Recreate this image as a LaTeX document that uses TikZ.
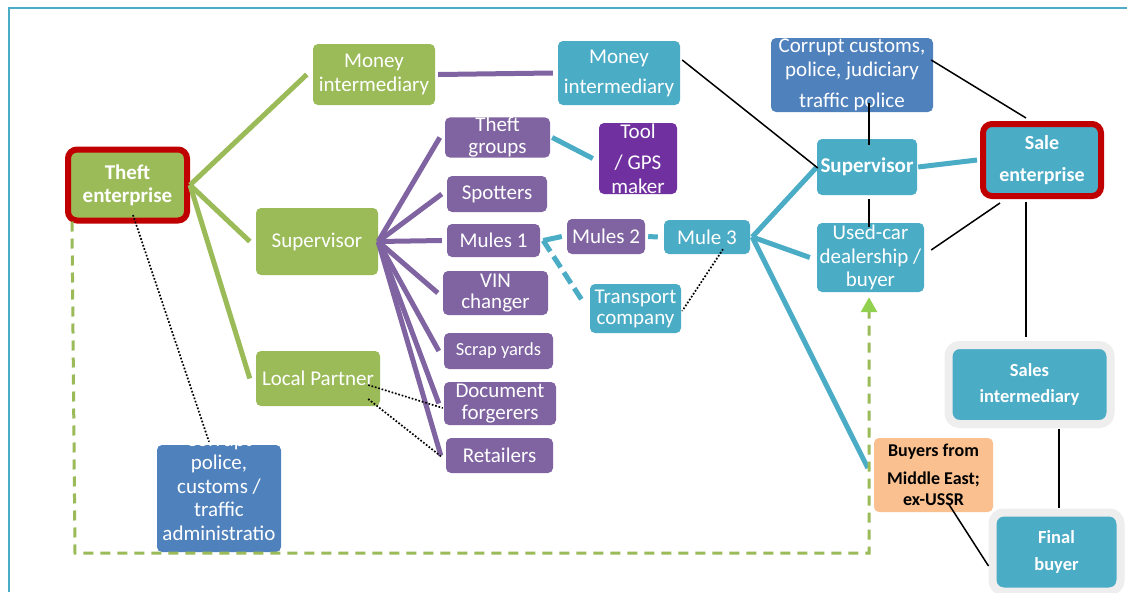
\documentclass[tikz,border=0pt]{standalone}
\usepackage{fontspec}
\setmainfont{Carlito}
\usetikzlibrary{arrows.meta}
\definecolor{cgreen}{HTML}{9BBB59}
\definecolor{cpurple}{HTML}{8064A2}
\definecolor{cdpurple}{HTML}{7030A0}
\definecolor{cteal}{HTML}{4BACC6}
\definecolor{cblue}{HTML}{4F81BD}
\definecolor{corange}{HTML}{FAC090}
\definecolor{cred}{HTML}{C00000}
\definecolor{chalo}{HTML}{EEEEEE}
\definecolor{carrow}{HTML}{92D050}
\begin{document}
\begin{tikzpicture}[x=1pt,y=-1pt,
  box/.style={rounded corners=5pt, inner sep=0pt, align=center, text=white, font=\fontsize{21}{24}\selectfont},
  gbox/.style={box, fill=cgreen},
  pbox/.style={box, fill=cpurple},
  tbox/.style={box, fill=cteal},
  bbox/.style={box, fill=cblue},
  redbox/.style={draw=cred, line width=6pt, rounded corners=9pt},
  halobox/.style={draw=chalo, line width=8pt, rounded corners=11pt},
  gline/.style={draw=cgreen, line width=5pt},
  pline/.style={draw=cpurple, line width=5pt},
  tline/.style={draw=cteal, line width=5pt},
  tdash/.style={draw=cteal, line width=5pt, dash pattern=on 13pt off 6pt},
  bline/.style={draw=black, line width=1.5pt},
  dotline/.style={draw=black, line width=1.7pt, dash pattern=on 1.7pt off 1.8pt},
  gdash/.style={draw=cgreen, line width=3pt, dash pattern=on 10pt off 7pt}
]
\useasboundingbox (0,0) rectangle (1127,592);
\fill[white] (0,0) rectangle (1127,592);
\draw[cteal, line width=2pt] (9,592) -- (9,8) -- (1127,8);

% green nodes
\node[gbox, redbox, minimum width=119pt, minimum height=71pt, font=\bfseries\fontsize{21}{23}\selectfont] (theft) at (127.5,185) {Theft\\enterprise};
\node[gbox, minimum width=122pt, minimum height=61pt] (gmoney) at (374,74.5) {Money\\intermediary};
\node[gbox, minimum width=122pt, minimum height=67pt] (gsup) at (317,241.5) {Supervisor};
\node[gbox, minimum width=124pt, minimum height=55pt] (glocal) at (318,378.5) {Local Partner};

% purple nodes
\node[pbox, minimum width=105pt, minimum height=39pt, font=\fontsize{21}{22}\selectfont] (tgroups) at (497.5,137.5) {Theft\\groups};
\node[box, fill=cdpurple, minimum width=78pt, minimum height=71pt] (tool) at (638,158.5) {Tool\\[7pt]/ GPS\\maker};
\node[pbox, minimum width=100pt, minimum height=36pt] (spot) at (497,194) {Spotters};
\node[pbox, minimum width=93pt, minimum height=33pt] (mules1) at (493.5,240.5) {Mules 1};
\node[pbox, minimum width=105pt, minimum height=44pt, font=\fontsize{21}{21}\selectfont] (vin) at (495.5,293) {VIN\\changer};
\node[pbox, minimum width=109pt, minimum height=36pt, font=\fontsize{18.5}{21}\selectfont] (scrap) at (498.5,351) {Scrap yards};
\node[pbox, minimum width=112pt, minimum height=43pt, font=\fontsize{21}{22}\selectfont] (doc) at (500,403.5) {Document\\forgerers};
\node[pbox, minimum width=107pt, minimum height=35pt] (retail) at (499.5,455.5) {Retailers};
\node[pbox, minimum width=78pt, minimum height=35pt] (mules2) at (606,236.5) {Mules 2};

% teal nodes
\node[tbox, minimum width=122pt, minimum height=64pt] (tmoney) at (619,73) {Money\\[6pt]intermediary};
\node[tbox, minimum width=86pt, minimum height=34pt] (mule3) at (707,237) {Mule 3};
\node[tbox, minimum width=91pt, minimum height=49pt, font=\fontsize{21}{21}\selectfont] (transport) at (635.5,308.5) {Transport\\company};
\node[tbox, minimum width=100pt, minimum height=56pt, font=\bfseries\fontsize{21}{24}\selectfont] (tsup) at (867,167) {Supervisor};
\node[tbox, minimum width=107pt, minimum height=69pt, font=\fontsize{21}{23.5}\selectfont] (used) at (870.5,257.5) {Used-car\\dealership /\\buyer};
\node[tbox, redbox, minimum width=118pt, minimum height=72pt, font=\bfseries\fontsize{20}{24}\selectfont] (sale) at (1042,160) {Sale\\[8pt]enterprise};
\node[tbox, halobox, minimum width=162pt, minimum height=79pt, font=\bfseries\fontsize{18.5}{26}\selectfont] (salesint) at (1029.5,384.5) {Sales\\intermediary};
\node[tbox, halobox, minimum width=128pt, minimum height=79pt, font=\bfseries\fontsize{18.5}{27}\selectfont] (final) at (1056.5,552) {Final\\buyer};

% blue nodes
\node[bbox, minimum width=162pt, minimum height=74pt, font=\fontsize{21}{24}\selectfont] (corrupt1) at (852,75) {Corrupt customs,\\police, judiciary\\[7pt]traffic police};
\node[bbox, minimum width=124pt, minimum height=107pt] (corrupt2) at (219,498.5) {};
\node[box, font=\fontsize{21}{23.5}\selectfont] (corrupt2t) at ([yshift=12pt]corrupt2.center) {Corrupt\\police,\\customs /\\traffic\\administratio};

% orange node
\node[box, fill=corange, text=black, minimum width=119pt, minimum height=74pt, font=\bfseries\fontsize{18}{21}\selectfont] (buyers) at (933.5,475) {Buyers from\\[7pt]Middle East;\\ex-USSR};

% green connectors
\draw[gline] (theft.east) -- ([xshift=-6pt]gmoney.west);
\draw[gline] (theft.east) -- ([xshift=-6pt]gsup.west);
\draw[gline] (theft.east) -- ([xshift=-6pt]glocal.west);

% purple connectors
\draw[pline] ([xshift=3pt]gmoney.east) -- ([xshift=-5pt]tmoney.west);
\foreach \t in {tgroups,spot,mules1,vin,scrap,doc,retail}
  \draw[pline] (gsup.east) -- ([xshift=-5pt]\t.west);

% teal connectors
\draw[tline] ([xshift=2pt]tgroups.east) -- ([xshift=-6pt]tool.west);
\draw[draw=cteal, line width=5pt, dash pattern=on 10pt off 10pt] ([xshift=-6pt]mule3.west) -- ([xshift=3pt]mules2.east);
\draw[tline] ([xshift=-5pt]mules2.west) -- ([xshift=3pt]mules1.east);
\draw[tdash] ([xshift=3pt]mules1.east) -- ([xshift=-6pt,yshift=5.5pt]transport.west);
\draw[tline] ([xshift=2pt]mule3.east) -- (tsup.west);
\draw[tline] ([xshift=2pt]mule3.east) -- ([xshift=-7pt]used.west);
\draw[tline] ([xshift=2pt]mule3.east) -- ([xshift=-6pt,yshift=7pt]buyers.west);
\draw[tline] ([xshift=1pt]tsup.east) -- ([xshift=-3pt]sale.west);

% green dashed feedback arrow
\coordinate (gd1) at (75,553);
\coordinate (gd2) at (869,553);
\draw[gdash, -{Triangle[width=16pt,length=15pt,color=carrow]}] ([xshift=7pt,yshift=2pt]theft.south west) -- (gd1) -- (gd2) -- ([xshift=-1.5pt,yshift=-5pt]used.south);

% black connectors
\draw[bline] ([xshift=2pt,yshift=13pt]tmoney.east) -- ([xshift=1pt,yshift=-1pt]tsup.west);
\draw[bline] ([xshift=17pt,yshift=9pt]corrupt1.south) -- ([xshift=2pt,yshift=-6pt]tsup.north);
\draw[bline] ([xshift=-2pt,yshift=15pt]corrupt1.east) -- ([xshift=-16pt,yshift=3pt]sale.north);
\draw[bline] ([xshift=2pt,yshift=-4pt]tsup.south) -- ([xshift=-1.5pt,yshift=-4pt]used.north);
\draw[bline] ([xshift=20pt,yshift=-4pt]sale.south west) -- ([xshift=7pt,yshift=7.5pt]used.east);
\draw[bline] ([xshift=-16pt,yshift=-3pt]sale.south) -- ([xshift=-3.5pt,yshift=4pt]salesint.north);
\draw[bline] ([xshift=29.5pt,yshift=-1pt]salesint.south) -- ([xshift=2.5pt,yshift=0.5pt]final.north);
\draw[bline] ([xshift=14.5pt,yshift=-28pt]buyers.center) -- ([yshift=-14pt]final.west);

% dotted connectors
\draw[dotline] ([xshift=5.5pt,yshift=8.5pt]theft.south) -- ([xshift=-10pt,yshift=3pt]corrupt2.north);
\draw[dotline] ([xshift=-12pt,yshift=-6.5pt]glocal.east) -- ([xshift=-1pt,yshift=-4.5pt]doc.west);
\draw[dotline] ([xshift=-12pt,yshift=-20.5pt]glocal.east) -- ([xshift=-4pt,yshift=-1.5pt]retail.west);
\draw[dotline] ([xshift=16pt,yshift=5pt]mule3.south) -- ([xshift=1pt,yshift=-2.5pt]transport.east);
\end{tikzpicture}
\end{document}
